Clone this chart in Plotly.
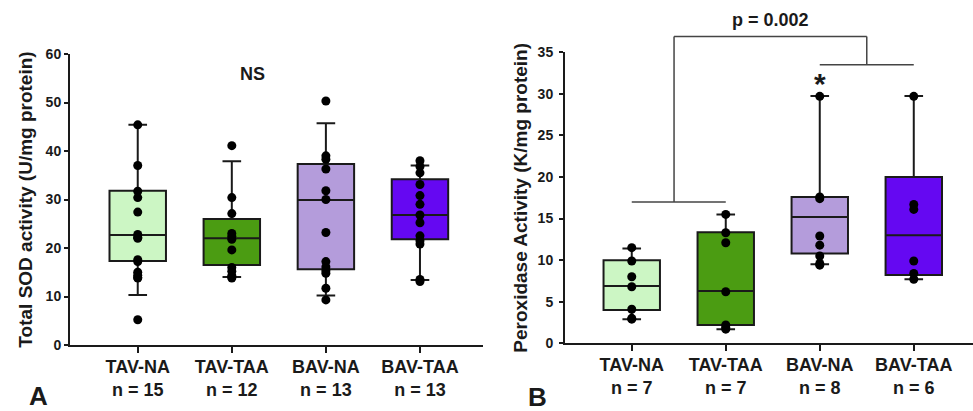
import plotly.graph_objects as go

# ---------------- data ----------------
groups = ["TAV-NA", "TAV-TAA", "BAV-NA", "BAV-TAA"]
colors = ["#ccf6c4", "#4b9c12", "#b49cdb", "#6508f2"]

# Panel A: Total SOD activity (U/mg protein)
sod_n = [15, 12, 13, 13]
sod_q1 = [17.3, 16.5, 15.6, 21.8]
sod_med = [22.7, 22.0, 29.9, 26.8]
sod_q3 = [31.8, 26.0, 37.3, 34.2]
sod_lo = [10.3, 14.0, 10.2, 13.4]
sod_hi = [45.4, 37.9, 45.7, 37.0]
sod_points = [
    [45.4, 37.0, 31.7, 30.4, 27.4, 22.8, 22.2, 22.0, 17.6, 17.2, 15.0, 14.4, 13.8, 13.9, 5.2],
    [41.1, 30.4, 27.1, 23.0, 22.4, 21.8, 19.6, 16.0, 15.2, 14.3, 13.8, 14.0],
    [50.3, 39.0, 38.3, 36.3, 31.8, 30.0, 23.2, 17.2, 16.1, 15.3, 14.8, 11.7, 9.3],
    [38.0, 36.8, 35.5, 33.1, 30.8, 29.0, 26.8, 25.2, 22.5, 21.5, 20.8, 13.5, 13.1],
]

# Panel B: Peroxidase Activity (K/mg protein)
pox_n = [7, 7, 8, 6]
pox_q1 = [4.0, 2.2, 10.8, 8.2]
pox_med = [6.9, 6.3, 15.2, 13.0]
pox_q3 = [10.0, 13.35, 17.6, 20.0]
pox_lo = [2.9, 1.7, 9.5, 7.7]
pox_hi = [11.4, 15.5, 29.75, 29.75]
pox_points = [
    [11.5, 9.9, 8.0, 6.8, 4.1, 3.0, 2.9],
    [15.5, 13.3, 12.1, 6.2, 2.2, 1.9, 1.7],
    [29.7, 17.6, 17.4, 12.9, 11.8, 10.5, 9.6, 9.4],
    [29.7, 16.7, 16.1, 9.9, 8.4, 7.7],
]

# significance bracket (panel B, data units)
brk_low_left = [0, 1, 17.0]      # x0, x1, y
brk_low_right = [2, 3, 33.5]
brk_top = [0.45, 2.5, 36.9]
p_text = "p = 0.002"
p_y = 38.9
star_y = 31.3
ns_y = 55.9

# ---------------- layout constants ----------------
W, H = 973, 411
FONT = "Arial, Liberation Sans, Helvetica, sans-serif"
xA_dom = [70 / W, 483 / W]
xB_dom = [565 / W, 1.0]
yA_dom = [1 - 345 / H, 1 - 54 / H]
yB_dom = [1 - 343.3 / H, 1 - 52.3 / H]
yA_rng = [0, 60]
yB_rng = [0, 35]
xA_rng = [-0.72, 3.67]
xB_rng = [-0.71, 3.63]

pos = list(range(len(groups)))
fig = go.Figure()

def add_panel(xa, ya, q1, med, q3, lo, hi, pts):
    for i, g in enumerate(groups):
        fig.add_trace(go.Box(
            x=[pos[i]], q1=[q1[i]], median=[med[i]], q3=[q3[i]],
            lowerfence=[lo[i]], upperfence=[hi[i]],
            width=0.6, whiskerwidth=0.33,
            fillcolor=colors[i], line=dict(color="#1a1a1a", width=2),
            boxpoints=False, xaxis=xa, yaxis=ya, showlegend=False,
            hoverinfo="skip"))
        fig.add_trace(go.Scatter(
            x=[pos[i]] * len(pts[i]), y=pts[i], mode="markers",
            marker=dict(color="black", size=9), xaxis=xa, yaxis=ya,
            showlegend=False, hoverinfo="skip", cliponaxis=False))

add_panel("x", "y", sod_q1, sod_med, sod_q3, sod_lo, sod_hi, sod_points)
add_panel("x2", "y2", pox_q1, pox_med, pox_q3, pox_lo, pox_hi, pox_points)

ticktextA = [f"{g}<br>n = {n}" for g, n in zip(groups, sod_n)]
ticktextB = [f"{g}<br>n = {n}" for g, n in zip(groups, pox_n)]

axis_common = dict(showline=True, linecolor="#1a1a1a", linewidth=2,
                   ticks="outside", tickcolor="#1a1a1a", tickwidth=2,
                   showgrid=False, zeroline=False, automargin=False)

fig.update_layout(
    width=W, height=H, margin=dict(l=0, r=0, t=0, b=0),
    paper_bgcolor="white", plot_bgcolor="white",
    font=dict(family=FONT, color="#1a1a1a"),
    xaxis=dict(domain=xA_dom, range=xA_rng, anchor="y", tickmode="array",
               tickvals=pos, ticktext=ticktextA, ticklen=6, ticklabelstandoff=-2,
               tickfont=dict(size=18, weight="bold"), **axis_common),
    yaxis=dict(domain=yA_dom, range=yA_rng, anchor="x", tickvals=[0, 10, 20, 30, 40, 50, 60],
               ticklen=4, tickfont=dict(size=14, weight="bold"),
               title=dict(text="Total SOD activity (U/mg protein)", standoff=8,
                          font=dict(size=19, weight="bold")), **axis_common),
    xaxis2=dict(domain=xB_dom, range=xB_rng, anchor="y2", tickmode="array",
                tickvals=pos, ticktext=ticktextB, ticklen=6, ticklabelstandoff=-2,
                tickfont=dict(size=18, weight="bold"), **axis_common),
    yaxis2=dict(domain=yB_dom, range=yB_rng, anchor="x2", tickvals=[0, 5, 10, 15, 20, 25, 30, 35],
                ticklen=4, ticklabelstandoff=3, tickfont=dict(size=14, weight="bold"),
                title=dict(text="Peroxidase Activity (K/mg protein)", standoff=5,
                           font=dict(size=19, weight="bold")), **axis_common),
)

def py(v):
    return yB_dom[0] + (v - yB_rng[0]) / (yB_rng[1] - yB_rng[0]) * (yB_dom[1] - yB_dom[0])

line_style = dict(color="#444444", width=1.5)
shapes = []
for seg in (brk_low_left, brk_low_right, brk_top):
    shapes.append(dict(type="line", xref="x2", yref="paper", x0=seg[0], x1=seg[1],
                       y0=py(seg[2]), y1=py(seg[2]), line=line_style))
shapes.append(dict(type="line", xref="x2", yref="paper", x0=brk_top[0], x1=brk_top[0],
                   y0=py(brk_low_left[2]), y1=py(brk_top[2]), line=line_style))
shapes.append(dict(type="line", xref="x2", yref="paper", x0=brk_top[1], x1=brk_top[1],
                   y0=py(brk_low_right[2]), y1=py(brk_top[2]), line=line_style))
fig.update_layout(shapes=shapes)

ann_font = dict(family=FONT, size=18, color="#1a1a1a", weight="bold")
mid = dict(xanchor="center", yanchor="middle", showarrow=False)
fig.add_annotation(x=1.22, y=ns_y, xref="x", yref="y", text="NS", font=ann_font, **mid)
fig.add_annotation(x=1.48, y=py(p_y), xref="x2", yref="paper", text=p_text, font=ann_font, **mid)
fig.add_annotation(x=pos[2], y=star_y, xref="x2", yref="y2", text="*",
                   font=dict(family=FONT, size=30, color="#1a1a1a", weight="bold"), **mid)
fig.add_annotation(x=38 / W, y=1 - 396 / H, xref="paper", yref="paper", text="A",
                   font=dict(family=FONT, size=26, color="#1a1a1a", weight="bold"), **mid)
fig.add_annotation(x=537 / W, y=1 - 397 / H, xref="paper", yref="paper", text="B",
                   font=dict(family=FONT, size=26, color="#1a1a1a", weight="bold"), **mid)

fig.write_html("out.html", config={"displayModeBar": False},
               post_script="document.body.style.margin='0';")
